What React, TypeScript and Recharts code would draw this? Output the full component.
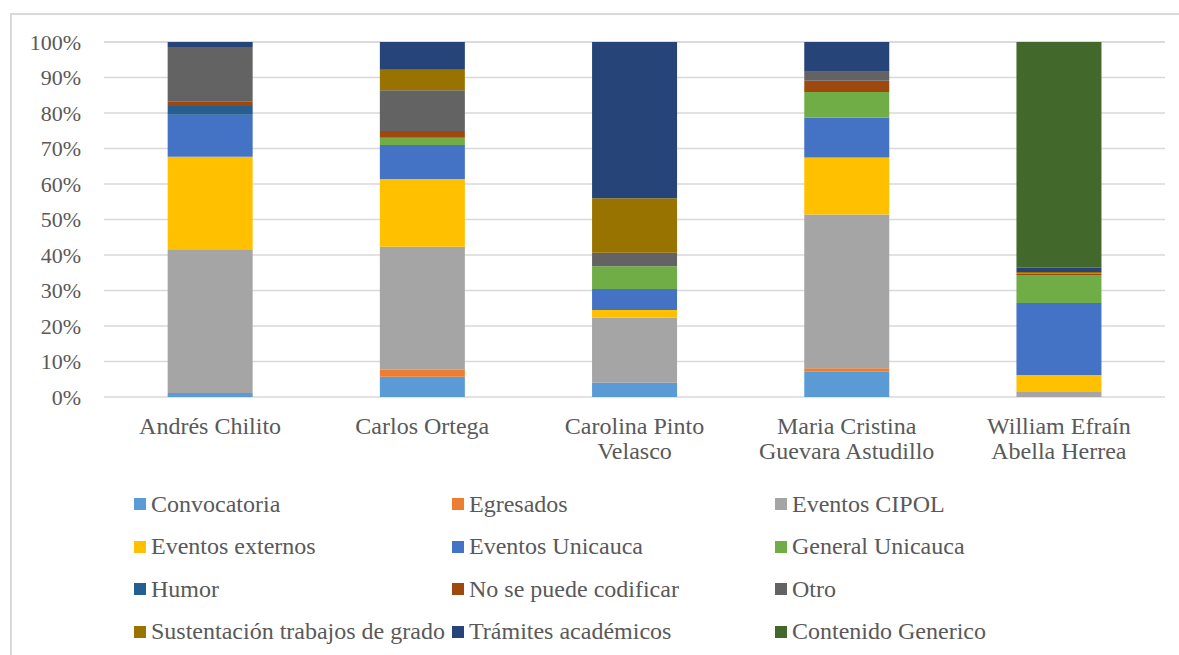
import React from 'react';
import { BarChart, Bar, XAxis, YAxis, CartesianGrid } from 'recharts';

// names shown under each bar, line breaks where the reference wraps them
const people = [
  'Andrés Chilito',
  'Carlos Ortega',
  'Carolina Pinto\nVelasco',
  'Maria Cristina\nGuevara Astudillo',
  'William Efraín\nAbella Herrea',
];

const convocatoria = [1.1, 5.7, 4.0, 7.1, 0];
const egresados = [0, 2.0, 0, 1.0, 0];
const eventosCipol = [40.5, 34.6, 18.3, 43.3, 1.4];
const eventosExternos = [26.1, 19.1, 2.2, 16.1, 4.8];
const eventosUnicauca = [11.8, 9.6, 5.9, 11.2, 20.3];
const generalUnicauca = [0, 2.0, 6.4, 7.2, 7.9];
const humor = [2.5, 0, 0, 0, 0];
const noCodificar = [1.3, 1.9, 0, 3.2, 0.4];
const otro = [15.3, 11.5, 3.8, 2.5, 0];
const sustentacion = [0, 5.8, 15.4, 0, 0.4];
const tramites = [1.4, 7.8, 44.0, 8.4, 1.2];
const contenidoGenerico = [0, 0, 0, 0, 63.6];

const yTicks = [0, 10, 20, 30, 40, 50, 60, 70, 80, 90, 100];

const series = [
  { key: 'conv', name: 'Convocatoria', values: convocatoria, color: '#5B9BD5' },
  { key: 'egr', name: 'Egresados', values: egresados, color: '#ED7D31' },
  { key: 'cipol', name: 'Eventos CIPOL', values: eventosCipol, color: '#A5A5A5' },
  { key: 'ext', name: 'Eventos externos', values: eventosExternos, color: '#FFC000' },
  { key: 'uni', name: 'Eventos Unicauca', values: eventosUnicauca, color: '#4472C4' },
  { key: 'gen', name: 'General Unicauca', values: generalUnicauca, color: '#70AD47' },
  { key: 'humor', name: 'Humor', values: humor, color: '#255E91' },
  { key: 'nsp', name: 'No se puede codificar', values: noCodificar, color: '#9E480E' },
  { key: 'otro', name: 'Otro', values: otro, color: '#636363' },
  { key: 'sust', name: 'Sustentación trabajos de grado', values: sustentacion, color: '#997300' },
  { key: 'tram', name: 'Trámites académicos', values: tramites, color: '#264478' },
  { key: 'cont', name: 'Contenido Generico', values: contenidoGenerico, color: '#43682B' },
];

const data = people.map((p, i) => {
  const row: Record<string, string | number> = { name: p };
  series.forEach((s) => {
    row[s.key] = s.values[i];
  });
  return row;
});

const FONT = '"Liberation Serif", "Times New Roman", serif';
const TEXT = '#595959';

function PersonTick({ x, y, payload }: any) {
  const lines = String(payload.value).split('\n');
  return (
    <text x={x} y={y} textAnchor="middle" fill={TEXT} fontFamily={FONT} fontSize={24}>
      {lines.map((l, i) => (
        <tspan key={i} x={x} dy={i === 0 ? 35 : 25}>
          {l}
        </tspan>
      ))}
    </text>
  );
}

const legendCols = [134, 452, 775];

export default function App() {
  return (
    <div
      style={{
        position: 'absolute',
        left: 0,
        top: 0,
        width: 1179,
        height: 655,
        overflow: 'hidden',
        background: '#fff',
      }}
    >
      <div
        style={{
          position: 'absolute',
          left: 10,
          top: 13,
          width: 1300,
          height: 800,
          border: '2px solid #D9D9D9',
        }}
      />
      <div style={{ position: 'absolute', left: 0, top: 0 }}>
        <BarChart
          width={1179}
          height={655}
          data={data}
          margin={{ top: 42, right: 14, left: 0, bottom: 198 }}
          barCategoryGap="30%"
        >
          <CartesianGrid vertical={false} stroke="#D9D9D9" strokeWidth={1.5} />
          <XAxis
            dataKey="name"
            axisLine={false}
            tickLine={false}
            tickSize={0}
            height={60}
            interval={0}
            tick={<PersonTick />}
          />
          <YAxis
            width={104}
            domain={[0, 100]}
            ticks={yTicks}
            tickFormatter={(v) => `${v}%`}
            axisLine={false}
            tickLine={false}
            tickSize={0}
            tickMargin={23}
            tick={{ fill: TEXT, fontFamily: FONT, fontSize: 22 }}
          />
          {series.map((s) => (
            <Bar
              key={s.key}
              dataKey={s.key}
              name={s.name}
              stackId="a"
              fill={s.color}
              isAnimationActive={false}
            />
          ))}
        </BarChart>
      </div>
      {series.map((s, i) => {
        const col = i % 3;
        const row = Math.floor(i / 3);
        return (
          <div
            key={s.key}
            style={{
              position: 'absolute',
              left: legendCols[col],
              top: 504 + row * 42.5 - 14,
              height: 28,
              display: 'flex',
              alignItems: 'center',
              fontFamily: FONT,
              fontSize: 24,
              color: TEXT,
              whiteSpace: 'nowrap',
            }}
          >
            <span
              style={{
                display: 'inline-block',
                width: 12,
                height: 12,
                background: s.color,
                marginRight: 5,
              }}
            />
            {s.name}
          </div>
        );
      })}
    </div>
  );
}
